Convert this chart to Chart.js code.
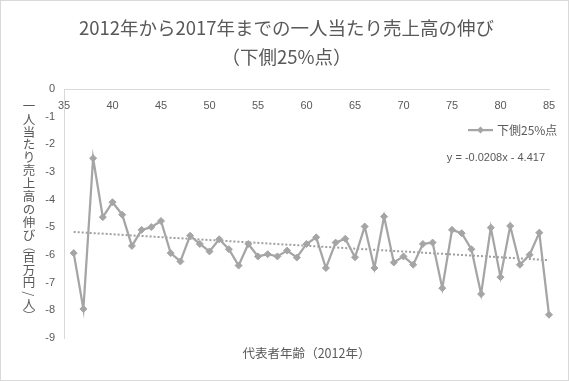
<!DOCTYPE html>
<html>
<head>
<meta charset="utf-8">
<script src="https://cdn.jsdelivr.net/npm/chart.js@4.4.0/dist/chart.umd.min.js"></script>
<style>
  body { margin: 0; background: #fff; }
  canvas { display: block; }
</style>
</head>
<body>
<canvas id="growth_chart" width="570" height="381"></canvas>
<script>
// 代表者年齢（2012年）
var ages = [36, 37, 38, 39, 40, 41, 42, 43, 44, 45,
            46, 47, 48, 49, 50, 51, 52, 53, 54, 55,
            56, 57, 58, 59, 60, 61, 62, 63, 64, 65,
            66, 67, 68, 69, 70, 71, 72, 73, 74, 75,
            76, 77, 78, 79, 80, 81, 82, 83, 84, 85];
// 一人当たり売上高の伸び 下側25%点（百万円/人）
var lower25 = [-5.93, -7.95, -2.50, -4.63, -4.09, -4.54, -5.67, -5.09, -4.99, -4.77,
               -5.93, -6.23, -5.30, -5.60, -5.87, -5.43, -5.79, -6.38, -5.60, -6.05,
               -5.97, -6.05, -5.84, -6.09, -5.60, -5.36, -6.47, -5.55, -5.41, -6.08,
               -4.97, -6.47, -4.61, -6.27, -6.05, -6.35, -5.60, -5.55, -7.20, -5.09,
               -5.21, -5.79, -7.41, -5.01, -6.80, -4.95, -6.35, -5.99, -5.19, -8.16];
var xRange = [35, 85];
var yRange = [-9, 0];
var trendSlope = -0.0208;
var trendIntercept = -4.417;

var titleLines = ['2012年から2017年までの一人当たり売上高の伸び', '（下側25%点）'];
var xTitle = '代表者年齢（2012年）';
var yTitle = '一人当たり売上高の伸び（百万円/人）';
var seriesName = '下側25%点';
var trendLabel = 'y = ' + trendSlope + 'x - ' + Math.abs(trendIntercept);

var grey = '#a5a5a5';
var textColor = '#595959';
var jp = '"Noto Sans CJK JP", sans-serif';
var num = '"Liberation Sans", sans-serif';

var points = ages.map(function(a, i) { return { x: a, y: lower25[i] }; });
var trendEnds = [ages[0], ages[ages.length - 1]].map(function(a) {
    return { x: a, y: trendSlope * a + trendIntercept };
});

var decorations = {
    id: 'decorations',
    afterDraw: function(chart) {
        var ctx = chart.ctx, area = chart.chartArea;
        ctx.save();

        // frame
        ctx.strokeStyle = '#d9d9d9';
        ctx.lineWidth = 1;
        ctx.strokeRect(0.5, 0.5, chart.width - 2, chart.height - 1);

        // vertical (stacked) y title
        ctx.fillStyle = textColor;
        ctx.font = '12.5px ' + jp;
        ctx.textAlign = 'center';
        ctx.textBaseline = 'middle';
        var x = area.left - 35, y = area.top + 10.5;
        for (var ch of yTitle) {
            var turn = '（）/'.indexOf(ch) >= 0;
            var adv = turn ? 9 : 12.9;
            ctx.save();
            ctx.translate(x, y + adv / 2);
            if (turn) ctx.rotate(Math.PI / 2);
            ctx.fillText(ch, 0, 0);
            ctx.restore();
            y += adv;
        }

        // legend
        var ly = area.top + 41;
        ctx.strokeStyle = grey;
        ctx.lineWidth = 2.25;
        ctx.beginPath();
        ctx.moveTo(area.right - 81, ly);
        ctx.lineTo(area.right - 56, ly);
        ctx.stroke();
        var dx = area.right - 68.5;
        ctx.fillStyle = grey;
        ctx.beginPath();
        ctx.moveTo(dx, ly - 3.5);
        ctx.lineTo(dx + 3.5, ly);
        ctx.lineTo(dx, ly + 3.5);
        ctx.lineTo(dx - 3.5, ly);
        ctx.closePath();
        ctx.fill();
        ctx.fillStyle = textColor;
        ctx.font = '12px ' + jp;
        ctx.textAlign = 'left';
        ctx.fillText(seriesName, area.right - 52, ly);

        // trendline equation
        ctx.font = '11px ' + num;
        ctx.textAlign = 'right';
        ctx.fillText(trendLabel, area.right - 4, area.top + 69);

        ctx.restore();
    }
};

var ctx = document.getElementById('growth_chart').getContext('2d');
new Chart(ctx, {
    type: 'scatter',
    data: {
        datasets: [{
            label: seriesName,
            data: points,
            showLine: true,
            clip: false,
            borderColor: grey,
            backgroundColor: grey,
            borderWidth: 2.25,
            pointStyle: 'rectRot',
            pointRadius: 3.5,
            pointBorderWidth: 1,
            tension: 0
        }, {
            label: 'trend',
            data: trendEnds,
            showLine: true,
            borderColor: '#a0a0a0',
            borderWidth: 2,
            borderDash: [2, 2],
            pointRadius: 0
        }]
    },
    options: {
        responsive: false,
        animation: false,
        devicePixelRatio: 1,
        layout: { padding: { left: 24, right: 21, top: 0, bottom: 0 } },
        plugins: {
            legend: { display: false },
            tooltip: { enabled: false },
            title: {
                display: true,
                text: titleLines,
                color: textColor,
                font: { family: jp, size: 18.5, weight: 'normal', lineHeight: 1.57 },
                padding: { top: 13, bottom: 18 }
            },
            subtitle: {
                display: true,
                position: 'bottom',
                fullSize: false,
                text: xTitle,
                color: textColor,
                font: { family: jp, size: 12.5, weight: 'normal', lineHeight: 1.2 },
                padding: { top: 8, bottom: 20 }
            }
        },
        scales: {
            x: {
                type: 'linear',
                position: 'top',
                min: xRange[0],
                max: xRange[1],
                grid: { display: false, drawTicks: false },
                border: { display: true, color: '#d9d9d9', width: 1 },
                ticks: {
                    stepSize: 5,
                    mirror: true,
                    padding: 10,
                    color: textColor,
                    font: { family: num, size: 11 }
                },
                afterFit: function(scale) { scale.height = 0; }
            },
            y: {
                min: yRange[0],
                max: yRange[1],
                grid: { display: false, drawTicks: false },
                border: { display: true, color: '#d9d9d9', width: 1 },
                ticks: {
                    stepSize: 1,
                    padding: 9,
                    color: textColor,
                    font: { family: num, size: 11 }
                },
                afterFit: function(scale) { scale.width = 40; }
            }
        }
    },
    plugins: [decorations]
});
</script>
</body>
</html>
